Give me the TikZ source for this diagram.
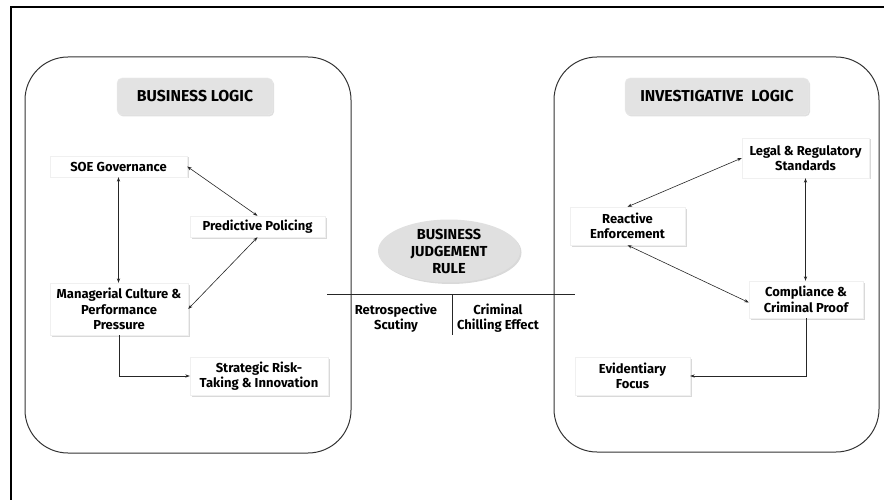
\documentclass[tikz,border=0pt]{standalone}
\usepackage{fontspec}
\setmainfont{Fira Sans}
\usetikzlibrary{arrows.meta,shadows,shapes.geometric}
\tikzset{
  panel/.style={draw=black!80, line width=1pt, rounded corners=43pt},
  titlebox/.style={draw=black!8, fill=black!11, rounded corners=5pt, font=\bfseries\fontsize{15.8}{18}\selectfont,
    drop shadow={shadow xshift=1.2pt, shadow yshift=-1.5pt, opacity=0.25}, inner sep=0pt},
  itembox/.style={fill=white, draw=black!6, font=\bfseries\fontsize{13}{15.5}\selectfont, align=center, inner sep=0pt,
    drop shadow={shadow xshift=1.5pt, shadow yshift=-1.5pt, opacity=0.3}},
  conn/.style={draw=black!85, line width=0.6pt},
  tip/.style={-{Stealth[length=4.5pt,width=3.2pt]}},
  tips/.style={{Stealth[length=4.5pt,width=3.2pt]}-{Stealth[length=4.5pt,width=3.2pt]}},
  lbl/.style={font=\bfseries\fontsize{13}{15.5}\selectfont, align=center, inner sep=0pt},
}
\begin{document}
\begin{tikzpicture}[x=1pt,y=-1pt]
\useasboundingbox (0,0) rectangle (884,500);
% outer frame (partly cropped)
\draw[line width=1.6pt] (11,500) -- (11,7) -- (884,7);
% panels
\draw[panel] (25,57) rectangle (351,453);
\draw[panel] (554,57) rectangle (879,452);
% titles
\node[titlebox, minimum width=156pt, minimum height=37pt] (bl) at (195,96.5) {BUSINESS LOGIC};
\node[titlebox, minimum width=184pt, minimum height=37pt] (il) at (717,96.5) {INVESTIGATIVE\hspace{0.25em} LOGIC};
% left items
\node[itembox, minimum width=137pt, minimum height=21pt] (soe) at (118.5,166.5) {SOE Governance};
\node[itembox, minimum width=135pt, minimum height=21pt] (pp) at (257.5,226.5) {Predictive Policing};
\node[itembox, minimum width=138pt, minimum height=52pt] (mc) at (119,309) {Managerial Culture \&\\Performance\\Pressure};
\node[itembox, minimum width=138pt, minimum height=38pt] (st) at (259,376) {Strategic Risk-\\Taking \& Innovation};
% right items
\node[itembox, minimum width=127pt, minimum height=40pt] (lr) at (805.5,158) {Legal \& Regulatory\\Standards};
\node[itembox, minimum width=115pt, minimum height=38pt] (re) at (627.5,226) {Reactive\\Enforcement};
\node[itembox, minimum width=114pt, minimum height=37pt] (cp) at (806,299.5) {Compliance \&\\Criminal Proof};
\node[itembox, minimum width=115pt, minimum height=38pt] (ev) at (632.5,376) {Evidentiary\\Focus};
% centre
\node[ellipse, fill=black!12, minimum width=142pt, minimum height=58pt, inner sep=0pt, align=center,
  font=\bfseries\fontsize{14.5}{17}\selectfont,
  drop shadow={shadow xshift=1.5pt, shadow yshift=-1.5pt, opacity=0.3}] (bjr) at (449,251) {BUSINESS\\JUDGEMENT\\RULE};
\coordinate (hl) at (327,294);
\coordinate (hr) at (575,294);
\coordinate (vt) at (452,294);
\coordinate (vb) at (452,335);
\draw[line width=0.9pt, draw=black!85] (hl) -- (hr);
\draw[line width=0.9pt, draw=black!85] (vt) -- (vb);
\node[lbl] (rs) at (396,318) {Retrospective\\Scutiny};
\node[lbl] (ce) at (498,318) {Criminal\\Chilling Effect};
% left connectors
\draw[conn, tips] (soe.east) -- (pp.north);
\draw[conn, tips] (pp.south) -- (mc.east);
\draw[conn, tips] (soe.south) -- (soe.south |- mc.north);
\draw[conn, tip] (mc.south) |- (st.west);
% right connectors
\draw[conn, tips] (lr.west) -- (re.north);
\draw[conn, tips] (re.south) -- ([yshift=-3pt]cp.west);
\draw[conn, tips] (lr.south) -- (lr.south |- cp.north);
\draw[conn, tip] (cp.south) |- (ev.east);
\end{tikzpicture}
\end{document}
